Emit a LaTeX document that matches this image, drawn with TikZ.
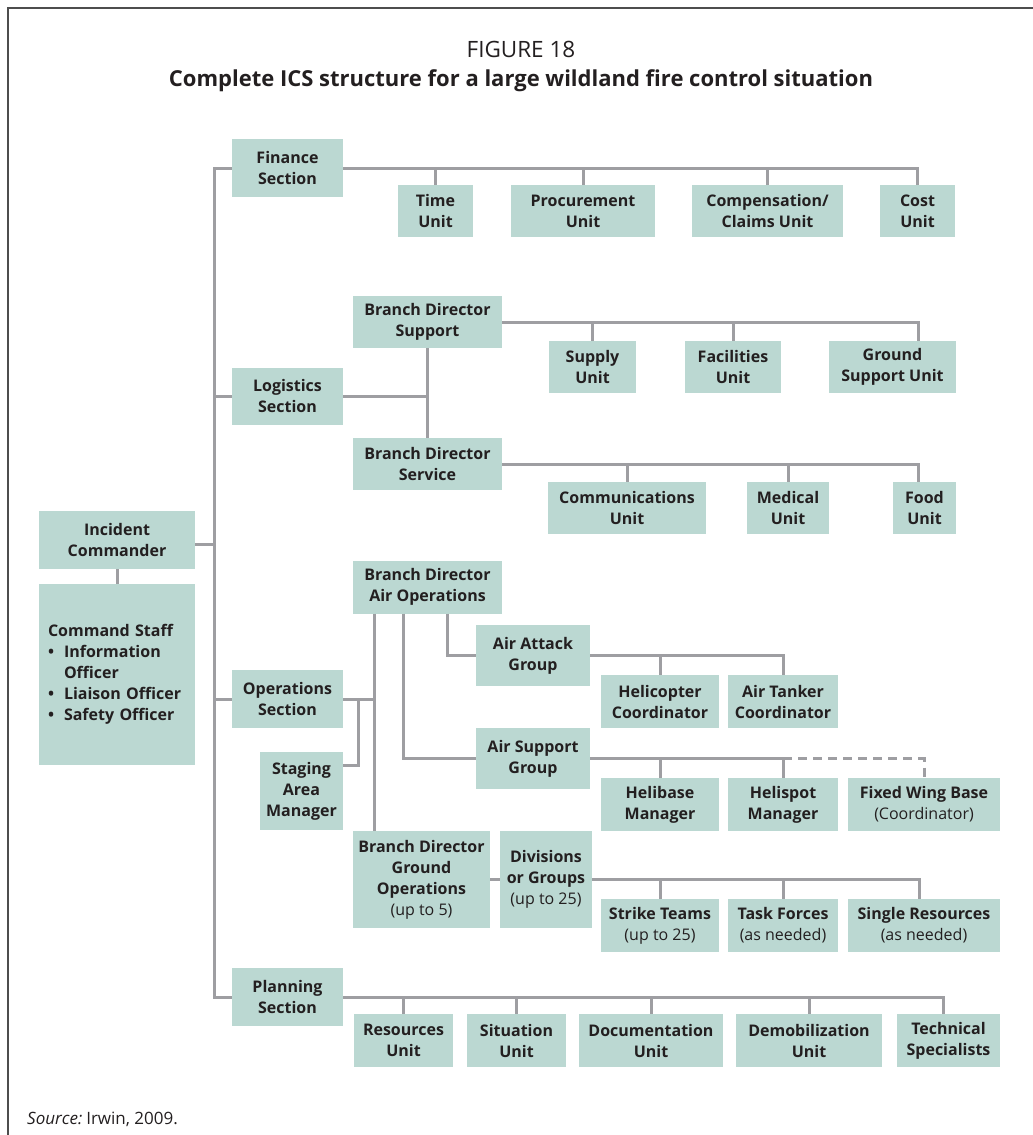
\documentclass[tikz,border=0pt]{standalone}
\usepackage{fontspec}
\setmainfont{Open Sans}
\definecolor{boxfill}{RGB}{187,216,210}
\definecolor{linegray}{RGB}{158,158,162}
\definecolor{framegray}{RGB}{77,77,77}
\definecolor{inkblack}{RGB}{35,31,32}
\newcommand{\csitem}{\makebox[16pt][l]{\textbullet}}

\begin{document}
\begin{tikzpicture}[x=1pt, y=-1pt]
	\tikzstyle{unit} = [fill=boxfill, text=inkblack, align=center, inner sep=0pt, font=\fontsize{16}{21}\selectfont\bfseries]
	\tikzstyle{link} = [draw=linegray, line width=3pt]
	\tikzstyle{plain} = [text=inkblack, inner sep=0pt]

	\useasboundingbox (0,0) rectangle (1033,1135);
	\draw[framegray, line width=2pt] (1033,8) -- (8,8) -- (8,1135);

	\node[plain, font=\fontsize{22.5}{26}\selectfont] (fig) at (521,49) {FIGURE 18};
	\node[plain, font=\fontsize{22}{26}\selectfont\bfseries] (title) at (521,81) {Complete ICS structure for a large wildland fire control situation};
	\node[plain, anchor=west, font=\fontsize{17}{21}\selectfont] (src) at (27,1119) {\textit{Source:}\kern4pt Irwin, 2009.};

	\coordinate (spx) at (214,0);
	\coordinate (opx) at (374,0);
	\coordinate (stx) at (358,0);

	\node[unit, minimum width=156pt, minimum height=58pt] (ic) at (117,540) {Incident\\Commander};
	\node[unit, minimum width=156pt, minimum height=181pt, text width=138pt, align=left] (cs) at (117,674.5)
		{Command Staff\\\csitem Information\\\hspace*{16pt}Officer\\\csitem Liaison Officer\\\csitem Safety Officer};

	\node[unit, minimum width=111pt, minimum height=58pt] (fin) at (287.5,168) {Finance\\Section};
	\node[unit, minimum width=75pt, minimum height=52pt] (time) at (435.5,211) {Time\\Unit};
	\node[unit, minimum width=144pt, minimum height=52pt] (proc) at (583,211) {Procurement\\Unit};
	\node[unit, minimum width=151pt, minimum height=52pt] (comp) at (767.5,211) {Compensation/\\Claims Unit};
	\node[unit, minimum width=75pt, minimum height=52pt] (cost) at (917.5,211) {Cost\\Unit};

	\node[unit, minimum width=111pt, minimum height=57pt] (log) at (287.5,396) {Logistics\\Section};
	\node[unit, minimum width=149pt, minimum height=52pt] (bds) at (427.5,322) {Branch Director\\Support};
	\node[unit, minimum width=87pt, minimum height=52pt] (sup) at (592.5,367) {Supply\\Unit};
	\node[unit, minimum width=96pt, minimum height=52pt] (fac) at (733,367) {Facilities\\Unit};
	\node[unit, minimum width=127pt, minimum height=52pt] (gsu) at (892.5,367) {Ground\\Support Unit};
	\node[unit, minimum width=149pt, minimum height=52pt] (bdv) at (427.5,464) {Branch Director\\Service};
	\node[unit, minimum width=158pt, minimum height=52pt] (comm) at (627,508) {Communications\\Unit};
	\node[unit, minimum width=82pt, minimum height=52pt] (med) at (788,508) {Medical\\Unit};
	\node[unit, minimum width=63pt, minimum height=52pt] (food) at (924.5,508) {Food\\Unit};

	\node[unit, minimum width=111pt, minimum height=58pt] (ops) at (287.5,699) {Operations\\Section};
	\node[unit, minimum width=83pt, minimum height=78pt] (stg) at (301.5,791) {Staging\\Area\\Manager};
	\node[unit, minimum width=149pt, minimum height=53pt] (bda) at (427.5,587) {Branch Director\\Air Operations};
	\node[unit, minimum width=114pt, minimum height=61pt] (aag) at (533,655.5) {Air Attack\\Group};
	\node[unit, minimum width=118pt, minimum height=53pt] (hc) at (660,701.5) {Helicopter\\Coordinator};
	\node[unit, minimum width=110pt, minimum height=53pt] (atc) at (783,701.5) {Air Tanker\\Coordinator};
	\node[unit, minimum width=114pt, minimum height=61pt] (asg) at (533,758.5) {Air Support\\Group};
	\node[unit, minimum width=118pt, minimum height=53pt] (hbm) at (660,804.5) {Helibase\\Manager};
	\node[unit, minimum width=110pt, minimum height=53pt] (hsm) at (783,804.5) {Helispot\\Manager};
	\node[unit, minimum width=152pt, minimum height=53pt] (fwb) at (924,804.5) {Fixed Wing Base\\{\mdseries(Coordinator)}};
	\node[unit, minimum width=137pt, minimum height=97pt] (bdg) at (421.5,879.5) {Branch Director\\Ground\\Operations\\{\mdseries(up to 5)}};
	\node[unit, minimum width=92pt, minimum height=97pt] (div) at (546,879.5) {Divisions\\or Groups\\{\mdseries(up to 25)}};
	\node[unit, minimum width=118pt, minimum height=53pt] (st) at (660,925.5) {Strike Teams\\{\mdseries(up to 25)}};
	\node[unit, minimum width=110pt, minimum height=53pt] (tf) at (783,925.5) {Task Forces\\{\mdseries(as needed)}};
	\node[unit, minimum width=152pt, minimum height=53pt] (sr) at (924,925.5) {Single Resources\\{\mdseries(as needed)}};

	\node[unit, minimum width=111pt, minimum height=58pt] (plan) at (287.5,997) {Planning\\Section};
	\node[unit, minimum width=99pt, minimum height=53pt] (res) at (403.5,1040.5) {Resources\\Unit};
	\node[unit, minimum width=99pt, minimum height=53pt] (sit) at (516.5,1040.5) {Situation\\Unit};
	\node[unit, minimum width=144pt, minimum height=53pt] (doc) at (651,1040.5) {Documentation\\Unit};
	\node[unit, minimum width=146pt, minimum height=53pt] (dem) at (809,1040.5) {Demobilization\\Unit};
	\node[unit, minimum width=103pt, minimum height=53pt] (tech) at (948.5,1040.5) {Technical\\Specialists};

	\draw[link] (fin.west) -- (fin.west -| spx) |- (plan.west);
	\draw[link] (log.west) -- (log.west -| spx);
	\draw[link] (ops.west) -- (ops.west -| spx);
	\draw[link] ([yshift=-4pt]ic.east) -- ([yshift=-4pt]ic.east -| spx);
	\draw[link] (ic.south) -- (cs.north);

	\draw[link] (fin.east) -| (cost.north);
	\foreach \u in {time, proc, comp}
		\draw[link] (\u.north) -- (\u.north |- fin.east);

	\draw[link] (log.east) -- (log.east -| bds.south);
	\draw[link] (bds.south) -- (bdv.north);
	\draw[link] (bds.east) -| ([xshift=25.5pt]gsu.north);
	\foreach \u in {sup, fac}
		\draw[link] (\u.north) -- (\u.north |- bds.east);
	\draw[link] (bdv.east) -| ([xshift=-6.5pt]food.north);
	\foreach \u in {comm, med}
		\draw[link] (\u.north) -- (\u.north |- bdv.east);

	\draw[link] (ops.east) -- (ops.east -| opx);
	\draw[link] (opx |- bda.south) -- (opx |- bdg.north);
	\draw[link] ([yshift=26pt]stg.east) -| (stx |- ops.east);
	\draw[link] ([xshift=19.5pt]bda.south) |- (aag.west);
	\draw[link] ([xshift=-24.5pt]bda.south) |- (asg.west);

	\draw[link] (aag.east) -| (atc.north);
	\draw[link] (hc.north) -- (hc.north |- aag.east);
	\draw[link] (asg.east) -| (hsm.north);
	\draw[link] (hbm.north) -- (hbm.north |- asg.east);
	\draw[link, dash pattern=on 9pt off 6pt] (hsm.north |- asg.east) -| (fwb.north);

	\draw[link] (bdg.east) -- (div.west);
	\draw[link] (div.east) -| ([xshift=-5pt]sr.north);
	\foreach \u in {st, tf}
		\draw[link] (\u.north) -- (\u.north |- div.east);

	\draw[link] (plan.east) -| ([xshift=-5.5pt]tech.north);
	\foreach \u in {res, sit, doc, dem}
		\draw[link] (\u.north) -- (\u.north |- plan.east);
\end{tikzpicture}
\end{document}
